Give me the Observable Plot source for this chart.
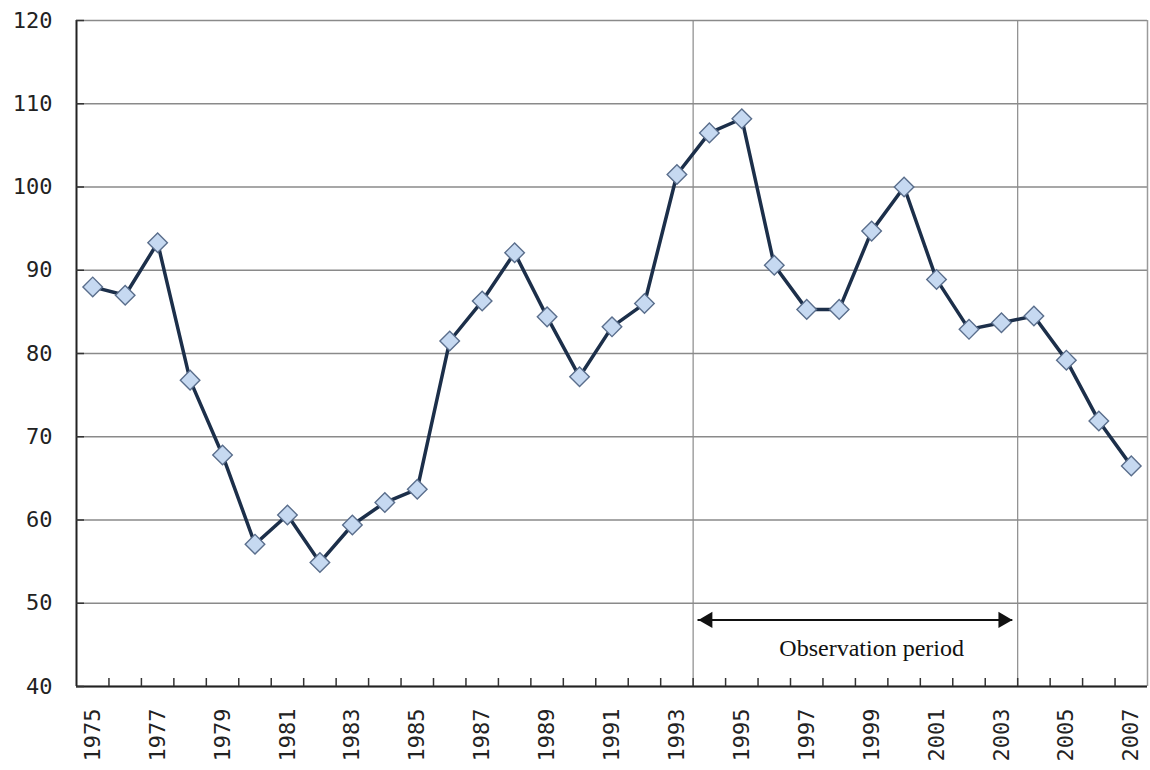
<!DOCTYPE html>
<html>
<head>
<meta charset="utf-8">
<script src="https://cdn.jsdelivr.net/npm/d3@7"></script>
<script src="https://cdn.jsdelivr.net/npm/@observablehq/plot@0.6"></script>
<style>
  html, body { margin: 0; padding: 0; background: #ffffff; }
  #chart { width: 1150px; height: 770px; }
</style>
</head>
<body>
<div id="chart"></div>
<script>
// ---- data ----
const years = [1975, 1976, 1977, 1978, 1979, 1980, 1981, 1982, 1983, 1984, 1985,
  1986, 1987, 1988, 1989, 1990, 1991, 1992, 1993, 1994, 1995, 1996, 1997, 1998,
  1999, 2000, 2001, 2002, 2003, 2004, 2005, 2006, 2007];
const values = [88.0, 87.0, 93.3, 76.8, 67.8, 57.1, 60.6, 54.9, 59.4, 62.1, 63.7,
  81.5, 86.3, 92.1, 84.4, 77.2, 83.2, 86.0, 101.5, 106.5, 108.2, 90.6, 85.3, 85.3,
  94.7, 100.0, 88.9, 82.9, 83.7, 84.5, 79.2, 71.9, 66.5];

const yTicks = [40, 50, 60, 70, 80, 90, 100, 110, 120];
const xLabelYears = [1975, 1977, 1979, 1981, 1983, 1985, 1987, 1989, 1991, 1993,
  1995, 1997, 1999, 2001, 2003, 2005, 2007];
const xBoundaries = years.slice(0, -1).map(y => y + 0.5);

// annotation: observation period
const observationBounds = [1993.5, 2003.5];
const arrowEnds = [1993.65, 2003.35];
const arrowHeads = [{x: 1993.95, rot: -90}, {x: 2003.05, rot: 90}];
const arrowLevel = 48;
const annotationLabel = ["Observation period"];
const annotationPos = {x: 1999.0, y: 44.6};

const data = years.map((year, i) => ({year, value: values[i]}));

const chart = Plot.plot({
  width: 1150,
  height: 770,
  marginLeft: 76,
  marginRight: 3,
  marginTop: 20,
  marginBottom: 84,
  style: {
    fontFamily: "'DejaVu Sans Mono', monospace",
    fontSize: "22px",
    color: "#222",
    background: "#ffffff"
  },
  x: {type: "linear", domain: [1974.5, 2007.5], label: null},
  y: {domain: [40, 120], label: null},
  marks: [
    Plot.gridY(yTicks, {stroke: "#8a8a8a", strokeOpacity: 1, strokeWidth: 1.4}),
    Plot.ruleX(observationBounds, {stroke: "#8a8a8a", strokeWidth: 1.2}),
    Plot.ruleX([2007.5], {stroke: "#9a9a9a", strokeWidth: 1.5}),
    Plot.ruleX([1974.5], {stroke: "#222", strokeWidth: 2}),
    Plot.ruleY([40], {stroke: "#222", strokeWidth: 2}),
    Plot.axisY({ticks: yTicks, tickSize: -8, fill: "none", stroke: "#333", strokeWidth: 1.5, label: null}),
    Plot.axisY({ticks: yTicks, tickSize: 0, tickPadding: 24, tickFormat: d => String(d), fill: "#222", label: null}),
    Plot.axisX({ticks: xBoundaries, tickSize: -8, fill: "none", stroke: "#333", strokeWidth: 1.5, label: null}),
    Plot.axisX({ticks: xLabelYears, tickSize: 0, tickPadding: 22, tickRotate: -90,
      tickFormat: d => String(d), fill: "#222", label: null}),
    // observation period arrow
    Plot.ruleY([arrowLevel], {x1: arrowEnds[0], x2: arrowEnds[1], stroke: "#111", strokeWidth: 2}),
    Plot.dot(arrowHeads, {x: "x", y: () => arrowLevel, rotate: "rot", symbol: "triangle",
      r: 6, fill: "#111", stroke: "none"}),
    Plot.text(annotationLabel, {x: annotationPos.x, y: annotationPos.y,
      fontFamily: "'Liberation Serif', 'Times New Roman', serif", fontSize: 24, fill: "#111"}),
    // series
    Plot.line(data, {x: "year", y: "value", stroke: "#1c2f4a", strokeWidth: 3.5}),
    Plot.dot(data, {x: "year", y: "value", symbol: "square", r: 7.8, rotate: 45,
      fill: "#c6d9f1", stroke: "#5a6e8c", strokeWidth: 1.4})
  ]
});

document.getElementById("chart").appendChild(chart);
</script>
</body>
</html>
